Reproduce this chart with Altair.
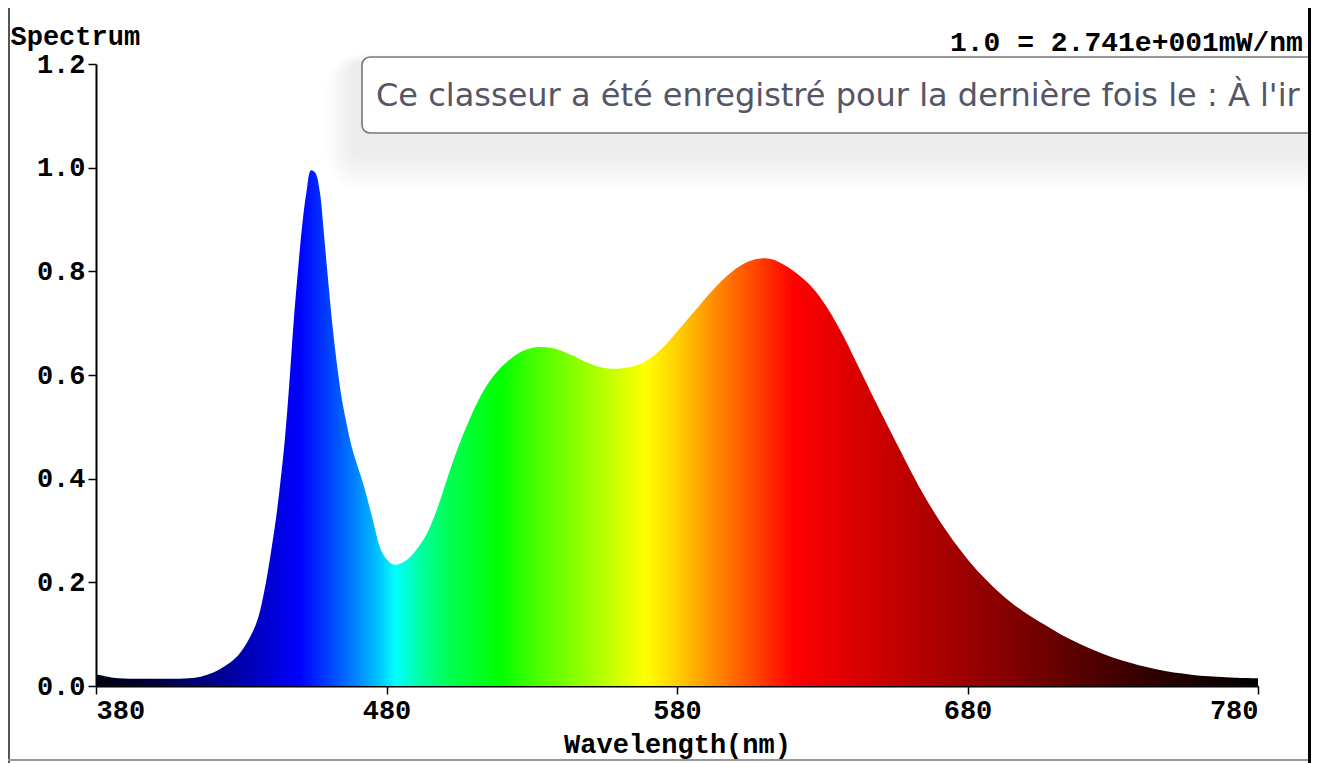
import altair as alt
import pandas as pd

# ---------------- data ----------------
wavelength = [380, 383, 388, 395, 405, 412, 416, 420, 424, 428, 431, 434, 436, 438,
              440, 442, 443.5, 445, 446.5, 448, 449.5, 451, 452.5, 454, 455.5,
              457, 458.5, 460, 461.5, 463, 464.5, 466, 468, 470, 472, 475, 478, 480,
              482.5, 485, 488, 491, 494, 497, 500, 503, 506, 509, 512, 515, 518, 522,
              526, 530, 533, 537, 541, 545, 549, 553, 557, 561, 565, 569, 573, 577,
              581, 585, 589, 593, 597, 601, 605, 609, 613, 617, 621, 625, 629, 633,
              637, 641, 645, 649, 653, 657, 661, 665, 669, 673, 677, 681, 685, 690,
              695, 700, 706, 712, 718, 724, 730, 736, 742, 748, 754, 760, 766, 772, 780]
intensity = [0.022, 0.019, 0.015, 0.014, 0.014, 0.015, 0.018, 0.025, 0.037, 0.054,
             0.075, 0.105, 0.135, 0.185, 0.25, 0.325, 0.395, 0.475, 0.58, 0.70,
             0.80, 0.89, 0.955, 0.995, 0.99, 0.955, 0.87, 0.777, 0.69, 0.618, 0.558,
             0.513, 0.462, 0.425, 0.39, 0.327, 0.264, 0.245, 0.234, 0.237, 0.248,
             0.268, 0.295, 0.335, 0.385, 0.435, 0.48, 0.52, 0.555, 0.584, 0.606,
             0.628, 0.644, 0.652, 0.654, 0.652, 0.645, 0.635, 0.624, 0.616, 0.612,
             0.613, 0.617, 0.626, 0.642, 0.664, 0.69, 0.716, 0.743, 0.768, 0.79,
             0.808, 0.82, 0.825, 0.823, 0.812, 0.797, 0.778, 0.752, 0.718, 0.678,
             0.633, 0.587, 0.541, 0.497, 0.453, 0.409, 0.368, 0.331, 0.297, 0.266,
             0.238, 0.213, 0.185, 0.161, 0.141, 0.12, 0.1, 0.083, 0.068, 0.055,
             0.045, 0.036, 0.029, 0.024, 0.02, 0.018, 0.016, 0.015]

x_ticks = [380, 480, 580, 680, 780]
y_ticks = [0.0, 0.2, 0.4, 0.6, 0.8, 1.0, 1.2]

y_title = "Spectrum"
x_title = "Wavelength(nm)"
scale_note = "1.0 = 2.741e+001mW/nm"
tooltip_text = "Ce classeur a été enregistré pour la dernière fois le : À l'ir"

# ---------------- styles ----------------
spectrum_stops = [(380, "#000010"), (400, "#000040"), (420, "#000088"), (435, "#0000c0"),
                  (450, "#0000ff"), (460, "#0040ff"), (470, "#0088ff"), (478, "#00ccff"),
                  (483, "#00ffff"), (492, "#00ffa0"), (502, "#00ff50"), (519, "#00ff00"),
                  (530, "#40ff00"), (545, "#88ff00"), (558, "#c8ff00"), (569, "#ffff00"),
                  (580, "#ffd000"), (592, "#ff9000"), (605, "#ff5000"), (620, "#ff0000"),
                  (640, "#dd0000"), (660, "#bb0000"), (680, "#9c0000"), (700, "#7a0000"),
                  (720, "#560000"), (745, "#2c0000"), (780, "#000000")]

MONO = "Liberation Mono"
SANS = "DejaVu Sans"
PL, PT, PR, PB = 88, 56, 53, 77
W, H = 1162, 622
X0, Y0 = 8 + PL, 8 + PT  # page position of plot origin


def px(x):
    return x - X0


def py(y):
    return y - Y0


df = pd.DataFrame({"wl": wavelength, "val": intensity})

gradient = alt.Gradient(
    gradient="linear",
    stops=[alt.GradientStop(color=c, offset=(w - 380) / 400) for w, c in spectrum_stops],
    x1=0, x2=1, y1=0, y2=0,
)

area = alt.Chart(df).mark_area(fill=gradient, interpolate="catmull-rom").encode(
    x=alt.X("wl:Q",
            scale=alt.Scale(domain=[380, 780], nice=False, zero=False),
            axis=alt.Axis(values=x_ticks, format="d", title=x_title,
                          titleY=58, titleBaseline="middle")),
    y=alt.Y("val:Q",
            scale=alt.Scale(domain=[0, 1.2], nice=False),
            axis=alt.Axis(values=y_ticks, format=".1f", title=y_title,
                          titleAngle=0, titleAlign="left", titleBaseline="middle",
                          titleX=px(10), titleY=py(36))),
)

one = pd.DataFrame({"k": [0]})
base = alt.Chart(one)

layers = [area]

# tooltip shadow (soft, stacked translucent rounded rectangles)
for i in range(9):
    layers.append(base.mark_rect(cornerRadius=10 + 3 * i, fill="black", opacity=0.0095).encode(
        x=alt.value(px(350 - 3 * i)), x2=alt.value(px(1340)),
        y=alt.value(py(62 - 1 * i)), y2=alt.value(py(158 + 4 * i))))

# tooltip box
layers.append(base.mark_rect(cornerRadius=8, fill="white", stroke="#777777", strokeWidth=1.6).encode(
    x=alt.value(px(362)), x2=alt.value(px(1340)),
    y=alt.value(py(57)), y2=alt.value(py(133))))

layers.append(base.mark_text(align="left", baseline="alphabetic", font=SANS, fontSize=32,
                             color="#555566", text=tooltip_text).encode(
    x=alt.value(px(376)), y=alt.value(py(106))))

# scale note at top right
layers.append(base.mark_text(align="left", baseline="middle", font=MONO, fontWeight="bold",
                             fontSize=28, color="black", text=scale_note).encode(
    x=alt.value(px(950)), y=alt.value(py(43))))

# window frame lines
layers.append(base.mark_rule(color="#555555", strokeWidth=2).encode(
    x=alt.value(px(9)), y=alt.value(py(8)), y2=alt.value(py(763))))
layers.append(base.mark_rule(color="#999999", strokeWidth=2).encode(
    x=alt.value(px(8)), x2=alt.value(px(1310)), y=alt.value(py(760))))
layers.append(base.mark_rule(color="black", strokeWidth=4).encode(
    x=alt.value(px(1310)), y=alt.value(py(8)), y2=alt.value(py(763))))

chart = alt.layer(*layers).properties(
    width=W, height=H,
    autosize=alt.AutoSizeParams(type="none"),
    padding={"left": PL, "top": PT, "right": PR, "bottom": PB},
    background="white",
).configure_view(stroke=None).configure_axis(
    grid=False,
    domainColor="black", domainWidth=2,
    tickColor="black", tickWidth=1.5, tickSize=8,
    labelFont=MONO, labelFontWeight="bold", labelFontSize=27, labelColor="black",
    titleFont=MONO, titleFontWeight="bold", titleFontSize=27, titleColor="black",
    labelPadding=3,
)

chart.save("out.html", embed_options={"renderer": "svg", "actions": False})
